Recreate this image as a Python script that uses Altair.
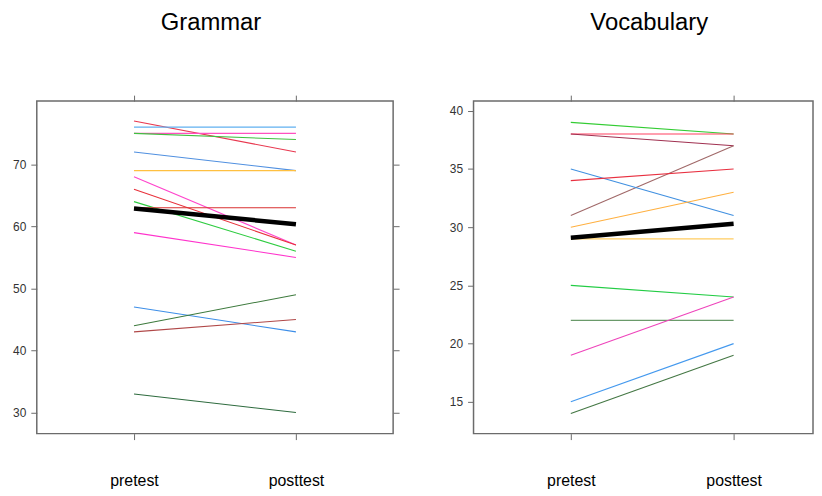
import altair as alt
import pandas as pd

tests = ["pretest", "posttest"]

grammar_pre = [77, 76, 75, 75, 72, 69, 68, 66, 64, 63, 59, 47, 44, 43, 33]
grammar_post = [72, 76, 75, 74, 69, 69, 57, 57, 56, 63, 55, 43, 49, 45, 30]
grammar_colors = ["#e8384f", "#60b0f0", "#ff50c0", "#40c040", "#5090e0", "#ffc040",
                  "#ff44cc", "#e8303a", "#2ecc40", "#d93030", "#ff33cc", "#3d8ee8",
                  "#3d7a3d", "#b04848", "#2e6b3e"]
grammar_mean = [62.9, 60.35]

vocab_pre = [39, 38, 38, 31, 35, 34, 30, 29, 25, 22, 19, 15, 14]
vocab_post = [38, 38, 37, 37, 31, 35, 33, 29, 24, 22, 24, 20, 19]
vocab_colors = ["#33cc33", "#ff4060", "#a03050", "#a06868", "#4090e0", "#e83040",
                "#ffb040", "#ffcc60", "#22cc44", "#6a9a6a", "#ee44bb", "#4499ee",
                "#447744"]
vocab_mean = [29.1, 30.3]

grammar_ticks = [30, 40, 50, 60, 70]
vocab_ticks = [15, 20, 25, 30, 35, 40]


def long_df(pre, post, colors):
    rows = []
    for i, (a, b, c) in enumerate(zip(pre, post, colors)):
        rows.append({"id": i, "test": tests[0], "ord": 0, "score": a, "col": c})
        rows.append({"id": i, "test": tests[1], "ord": 1, "score": b, "col": c})
    return pd.DataFrame(rows)


def mean_df(vals):
    return pd.DataFrame({"test": tests, "ord": [0, 1], "score": vals})


FONT = "Liberation Sans"
GREY = "#6b6b6b"


def panel(title, pre, post, colors, mean, domain, ticks, width, height,
          title_offset, title_dx, label_pad, pad, align, right_ticks):
    xs = alt.Scale(type="point", domain=tests, padding=pad, align=align)
    ys = alt.Scale(domain=domain, nice=False, zero=False)
    lines = alt.Chart(long_df(pre, post, colors)).mark_line(strokeWidth=1.1).encode(
        x=alt.X("test:N", scale=xs, sort=tests,
                axis=alt.Axis(orient="bottom", title=None, domain=False, grid=False,
                              tickSize=6, tickColor=GREY, labelPadding=label_pad,
                              labelFontSize=16, labelFont=FONT, labelColor="black",
                              labelAngle=0)),
        y=alt.Y("score:Q", scale=ys,
                axis=alt.Axis(orient="left", title=None, domain=False, grid=False,
                              values=ticks, tickSize=6, tickColor=GREY, labelPadding=5,
                              labelFontSize=12, labelFont=FONT, labelColor="#333")),
        detail="id:N",
        order="ord:Q",
        color=alt.Color("col:N", scale=None),
    )
    if right_ticks:
        y_mean = alt.Y("score:Q", scale=ys,
                       axis=alt.Axis(orient="right", title=None, domain=False, grid=False,
                                     values=ticks, tickSize=6, tickColor=GREY, labels=False))
    else:
        y_mean = alt.Y("score:Q", scale=ys, axis=None)
    mean_line = alt.Chart(mean_df(mean)).mark_line(strokeWidth=4.5, color="black").encode(
        x=alt.X("test:N", scale=xs, sort=tests,
                axis=alt.Axis(orient="top", title=None, domain=False, grid=False,
                              tickSize=6, tickColor=GREY, labels=False)),
        y=y_mean,
        order="ord:Q",
    )
    return alt.layer(lines, mean_line).resolve_axis(x="independent", y="independent").properties(
        width=width, height=height,
        title=alt.TitleParams(text=title, fontSize=24, font=FONT, fontWeight="normal",
                              color="black", offset=title_offset, dx=title_dx,
                              anchor="middle"),
    )


left = panel("Grammar", grammar_pre, grammar_post, grammar_colors, grammar_mean,
             [26.6, 80.2], grammar_ticks, 359, 335, 60, -4, 33, 0.6, 0.5, True)
right = panel("Vocabulary", vocab_pre, vocab_post, vocab_colors, vocab_mean,
              [12.27, 40.83], vocab_ticks, 342, 335, 60, 6, 33, 0.5427, 0.5506, False)

chart = alt.hconcat(left, right, spacing=47).properties(
    padding={"left": 3, "top": 0, "right": 0, "bottom": 0},
    background="white",
).configure_view(stroke=GREY, strokeWidth=1.5)

chart.save("out.html", embed_options={"renderer": "svg", "actions": False})
